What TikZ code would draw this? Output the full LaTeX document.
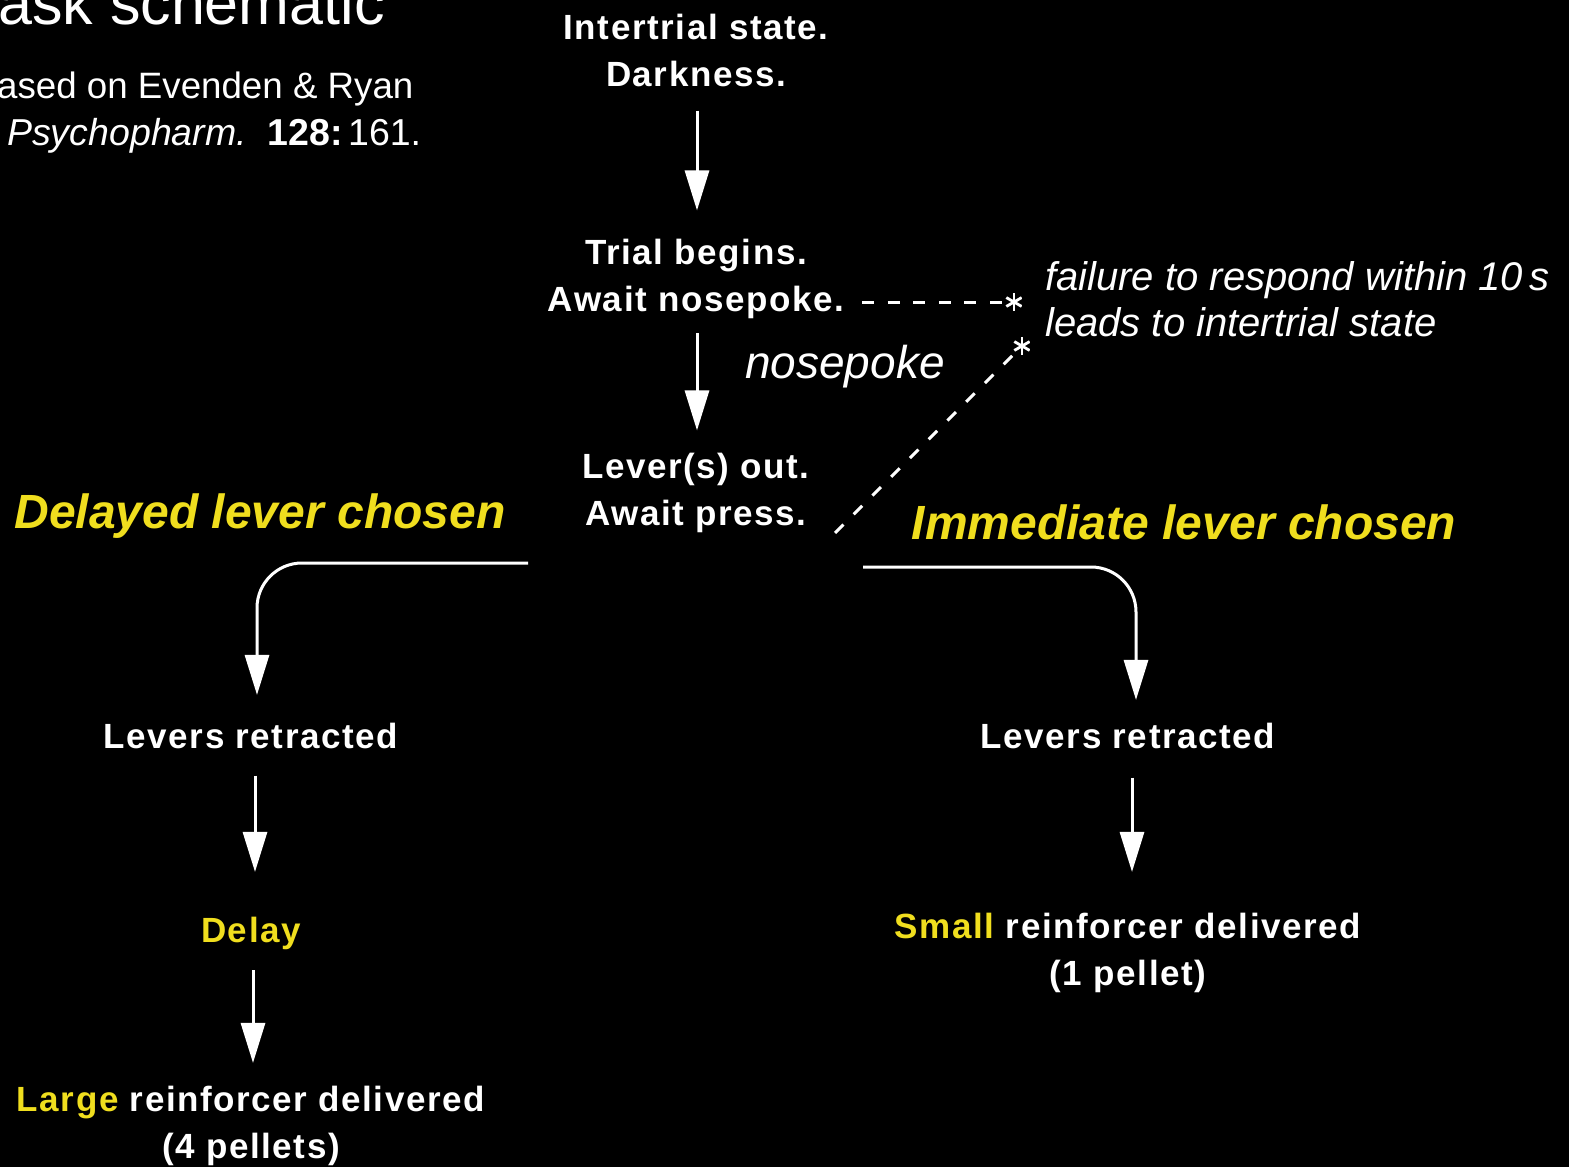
\documentclass[tikz,border=0pt]{standalone}
\usepackage{fontspec}
\setmainfont{Liberation Sans}
\newfontfamily\flowfont{Liberation Sans}[LetterSpace=4.5]
\usetikzlibrary{arrows.meta,calc}
\definecolor{ylw}{RGB}{240,222,30}
\begin{document}
\begin{tikzpicture}[x=1pt,y=-1pt,
  flow/.style={text=white, font=\flowfont\bfseries\fontsize{35}{47}\selectfont, inner sep=0pt, align=center, anchor=base},
  note/.style={text=white, font=\itshape\fontsize{40}{46}\selectfont, inner sep=0pt, align=left, anchor=base west},
  choice/.style={text=ylw, font=\bfseries\itshape\fontsize{48}{48}\selectfont, inner sep=0pt, anchor=base},
  arr/.style={draw=white, line width=3pt, -{Triangle[length=40pt,width=24pt]}},
  dshh/.style={draw=white, line width=3pt, dash pattern=on 12pt off 13.6pt},
  dshd/.style={draw=white, line width=3pt, dash pattern=on 12pt off 14.5pt},
  astk/.style={circle, inner sep=0pt, minimum size=18pt,
    path picture={\foreach \a in {90,30,150}{\draw[white, line width=2.8pt]
      ($(path picture bounding box.center)+(\a:9pt)$) -- ($(path picture bounding box.center)+(\a+180:9pt)$);}}}
]
\fill[black] (0,0) rectangle (1569,1167);
\useasboundingbox (0,0) rectangle (1569,1167);

% header
\node[anchor=base west, text=white, inner sep=0pt, font=\fontsize{61}{61}\selectfont] (title) at (-2,24) {ask schematic};
\node[anchor=base west, text=white, inner sep=0pt, align=left, font=\fontsize{36.7}{47}\selectfont] (cite) at (-3,145)
  {ased on Evenden \& Ryan\\\hspace*{10pt}{\fontsize{37.5}{47}\selectfont\textit{Psychopharm.}\hspace{0.55em}\textbf{128:}\hspace{0.15em}161.}};

% central column
\node[flow] (inter) at (696,86) {Intertrial state.\\Darkness.};
\node[flow] (trial) at (696,311) {Trial begins.\\Await nosepoke.};
\node[flow] (lever) at (696,525) {Lever(s) out.\\Await press.};

\draw[arr] ([xshift=1pt,yshift=-24pt]inter.south) -- ([xshift=1pt,yshift=28pt]trial.north);
\draw[arr] ([xshift=1pt,yshift=-15pt]trial.south) -- ([xshift=1pt,yshift=22pt]lever.north);
\node[text=white, inner sep=0pt, anchor=base, font=\itshape\fontsize{46}{46}\selectfont] (nose) at (845,378) {nosepoke};

% failure note
\node[astk] (ast1) at (1014,302) {};
\node[astk] (ast2) at (1022,346) {};
\node[note] (fail) at (1045,336) {failure to respond within 10\,s\\leads to intertrial state};
\coordinate (hstart) at (862,302);
\draw[dshh] (hstart) -- ([xshift=1pt]ast1.west);
\coordinate (dstart) at (835,533);
\draw[dshd] (dstart) -- (ast2.south west);

% choices
\node[choice] (delchoice) at (260,528) {Delayed lever chosen};
\node[choice] (immchoice) at (1184,539) {Immediate lever chosen};

% left branch
\node[flow] (lretr) at (251,748) {Levers retracted};
\node[flow] (delay) at (251,942) {\color{ylw}Delay};
\node[flow] (large) at (251,1158) {{\color{ylw}Large} reinforcer delivered\\(4 pellets)};
\coordinate (lstart) at (528,563);
\draw[arr, rounded corners=45pt] (lstart) -| ([xshift=6pt,yshift=27.5pt]lretr.north);
\draw[arr] ([xshift=4pt,yshift=-27pt]lretr.south) -- ([xshift=4pt,yshift=44.5pt]delay.north);
\draw[arr] ([xshift=2pt,yshift=-21pt]delay.south) -- ([xshift=2pt,yshift=22.5pt]large.north);

% right branch
\node[flow] (rretr) at (1128,748) {Levers retracted};
\node[flow] (small) at (1128,985) {{\color{ylw}Small} reinforcer delivered\\(1 pellet)};
\coordinate (rstart) at (863,567);
\draw[arr, rounded corners=45pt] (rstart) -| ([xshift=8pt,yshift=22.5pt]rretr.north);
\draw[arr] ([xshift=4pt,yshift=-29pt]rretr.south) -- ([xshift=4pt,yshift=40.5pt]small.north);
\end{tikzpicture}
\end{document}
